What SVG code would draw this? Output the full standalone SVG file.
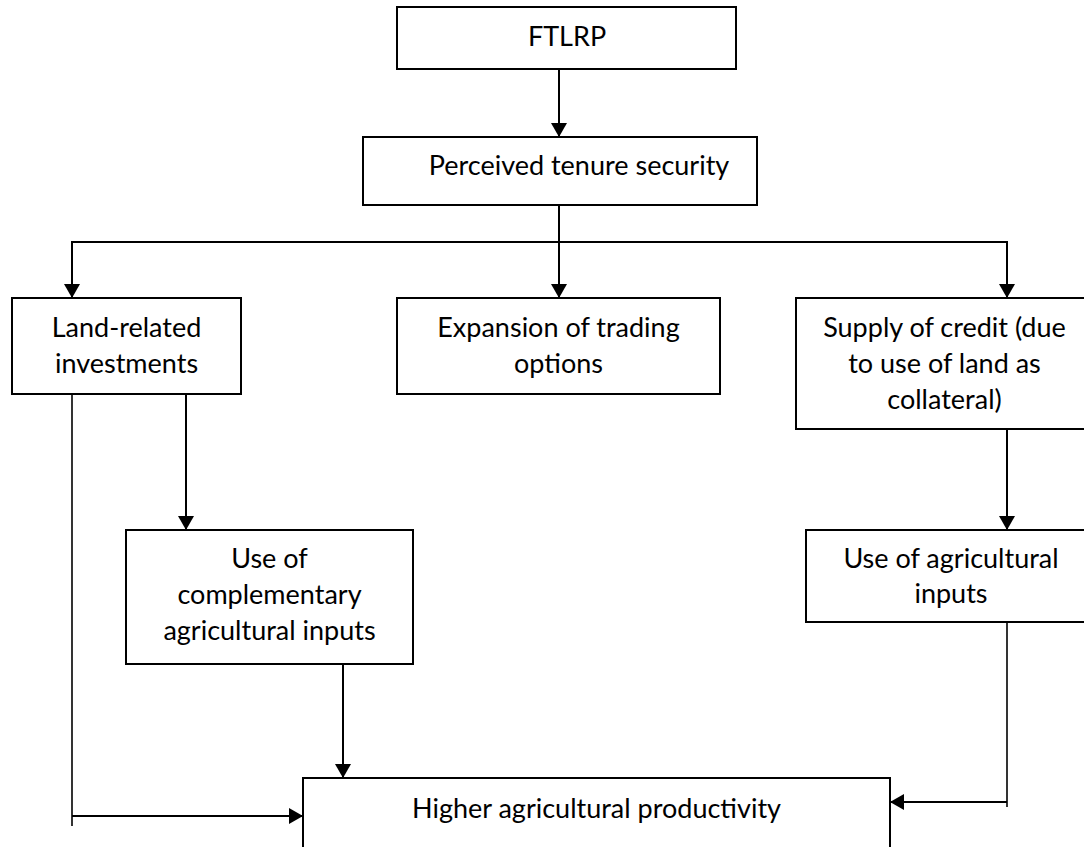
<svg xmlns="http://www.w3.org/2000/svg" width="1084" height="847" viewBox="0 0 1084 847">
<defs>
<style>
.box{fill:#fff;stroke:#000;stroke-width:2}
.t{font-family:Lato,"Open Sans","Liberation Sans",sans-serif;font-size:27px;fill:#000;text-anchor:middle}
.c{fill:none;stroke:#000;stroke-width:2}
.thin{fill:none;stroke:#000;stroke-width:1.6}
</style>
<marker id="ah" viewBox="0 0 14 16" refX="14" refY="8" markerWidth="14" markerHeight="16" markerUnits="userSpaceOnUse" orient="auto">
<path d="M0,0 L14,8 L0,16 Z" fill="#000"/>
</marker>
</defs>
<rect width="1084" height="847" fill="#fff"/>
<g id="connectors">
<line class="c" x1="559" y1="69" x2="559" y2="137" marker-end="url(#ah)"/>
<line class="c" x1="559" y1="205" x2="559" y2="298" marker-end="url(#ah)"/>
<polyline class="c" points="72,298 72,242 1007,242 1007,298" marker-end="url(#ah)"/>
<path class="c" d="M72,242 L72,298" marker-end="url(#ah)"/>
<line class="c" x1="186" y1="394" x2="186" y2="530" marker-end="url(#ah)"/>
<line class="c" x1="343" y1="664" x2="343" y2="778" marker-end="url(#ah)"/>
<line class="c" x1="1007" y1="429" x2="1007" y2="530" marker-end="url(#ah)"/>
<line class="thin" x1="72" y1="394" x2="72" y2="826"/>
<line class="c" x1="72" y1="816" x2="303" y2="816" marker-end="url(#ah)"/>
<line class="thin" x1="1007" y1="622" x2="1007" y2="807"/>
<line class="c" x1="1007" y1="802" x2="890" y2="802" marker-end="url(#ah)"/>
</g>
<g id="ftlrp">
<rect class="box" x="397" y="7" width="339" height="62"/>
<text class="t" x="567" y="46">FTLRP</text>
</g>
<g id="tenure">
<rect class="box" x="363" y="137" width="394" height="68"/>
<text class="t" x="579" y="175">Perceived tenure security</text>
</g>
<g id="land">
<rect class="box" x="12" y="298" width="229" height="96"/>
<text class="t" x="126.5" y="337">Land-related</text>
<text class="t" x="126.5" y="373">investments</text>
</g>
<g id="trading">
<rect class="box" x="397" y="298" width="323" height="96"/>
<text class="t" x="558.5" y="337">Expansion of trading</text>
<text class="t" x="558.5" y="373">options</text>
</g>
<g id="credit">
<rect class="box" x="796" y="298" width="297" height="131"/>
<text class="t" x="944.5" y="337">Supply of credit (due</text>
<text class="t" x="944.5" y="373">to use of land as</text>
<text class="t" x="944.5" y="409">collateral)</text>
</g>
<g id="complementary">
<rect class="box" x="126" y="530" width="287" height="134"/>
<text class="t" x="269.5" y="568">Use of</text>
<text class="t" x="269.5" y="604">complementary</text>
<text class="t" x="269.5" y="640">agricultural inputs</text>
</g>
<g id="inputs">
<rect class="box" x="806" y="530" width="290" height="92"/>
<text class="t" x="951" y="568">Use of agricultural</text>
<text class="t" x="951" y="603">inputs</text>
</g>
<g id="productivity">
<rect class="box" x="303" y="778" width="587" height="90"/>
<text class="t" x="596.5" y="818">Higher agricultural productivity</text>
</g>
</svg>
